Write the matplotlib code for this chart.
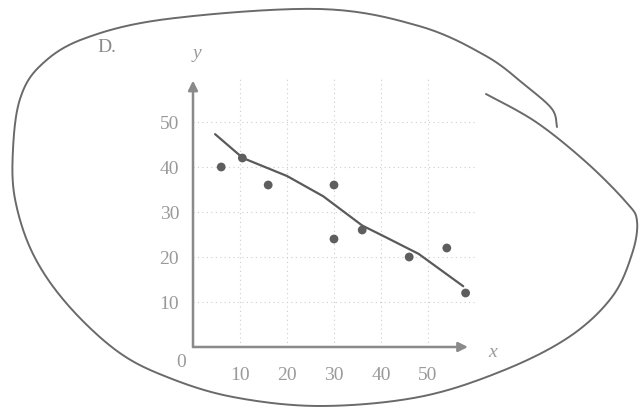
import numpy as np
import matplotlib
matplotlib.use("Agg")
import matplotlib.pyplot as plt

# --- datos ---
x_pts = [6, 10.5, 16, 30, 30, 36, 46, 54, 58]
y_pts = [40, 42, 36, 36, 24, 26, 20, 22, 12]

# curva de tendencia (trazo a mano)
x_curve = [4.7, 10.6, 20, 27.7, 36, 41, 48, 57.5]
y_curve = [47.3, 42, 38, 33.5, 27, 24.4, 20.7, 13.5]

x_ticks = [10, 20, 30, 40, 50]
y_ticks = [10, 20, 30, 40, 50]

# lazo dibujado a mano alrededor de la figura (pixeles de la imagen)
loop_px = [557, 552, 526, 486, 419, 320, 167, 83, 40, 20, 13, 15, 33, 67, 117,
           167, 233, 320, 419, 502, 569, 612, 632, 637, 626, 586, 536, 486]
loop_py = [128, 110, 87, 57, 27, 10, 20, 40, 67, 100, 150, 200, 255, 305, 352,
           378, 398, 407, 398, 372, 338, 298, 255, 222, 203, 163, 123, 95]


def catmull_rom(px, py, n=20):
    """Suaviza una polilinea con un spline Catmull-Rom"""
    p = np.column_stack([px, py]).astype(float)
    p = np.vstack([p[0], p, p[-1]])
    out = []
    for i in range(1, len(p) - 2):
        p0, p1, p2, p3 = p[i - 1], p[i], p[i + 1], p[i + 2]
        for t in np.linspace(0, 1, n, endpoint=False):
            t2, t3 = t * t, t * t * t
            out.append(0.5 * ((2 * p1) + (-p0 + p2) * t +
                              (2 * p0 - 5 * p1 + 4 * p2 - p3) * t2 +
                              (-p0 + 3 * p1 - 3 * p2 + p3) * t3))
    out.append(p[-2])
    out = np.array(out)
    return out[:, 0], out[:, 1]


W, H = 639, 410
fig = plt.figure(figsize=(W / 100, H / 100), dpi=100)
fig.patch.set_facecolor("white")

# capa de fondo en pixeles
bg = fig.add_axes([0, 0, 1, 1])
bg.set_xlim(0, W)
bg.set_ylim(H, 0)
bg.axis("off")
lx, ly = catmull_rom(loop_px, loop_py)
bg.plot(lx, ly, color="#6a6a6a", lw=1.4, solid_capstyle="round")
bg.text(107, 47, "D.", fontsize=14, family="Liberation Serif", color="#8a8a8a",
        ha="center", va="center")

# grafico principal
ax = fig.add_axes([193 / W, 62 / H, 282 / W, 270 / H])
ax.patch.set_alpha(0)
ax.set_xlim(0, 60)
ax.set_ylim(0, 60)
for s in ax.spines.values():
    s.set_visible(False)

ax.set_xticks(x_ticks)
ax.set_yticks(y_ticks)
ax.tick_params(length=0, labelsize=14, labelcolor="#9a9a9a", pad=0)
ax.tick_params(axis="x", pad=14)
ax.tick_params(axis="y", pad=10)
for lab in ax.get_xticklabels() + ax.get_yticklabels():
    lab.set_family("Liberation Serif")
ax.grid(True, linestyle=(0, (1, 3)), color="#cdcdcd", lw=0.8)

# ejes con flechas
ax.annotate("", xy=(58.5, 0), xytext=(0, 0),
            arrowprops=dict(arrowstyle="-|>", color="#8a8a8a", lw=1.8,
                            mutation_scale=14, shrinkA=0, shrinkB=0))
ax.annotate("", xy=(0, 59.2), xytext=(0, 0),
            arrowprops=dict(arrowstyle="-|>", color="#8a8a8a", lw=1.8,
                            mutation_scale=14, shrinkA=0, shrinkB=0))
ax.text(-2.5, -3.3, "0", fontsize=14, family="Liberation Serif", color="#9a9a9a",
        ha="center", va="center")
ax.text(63.7, -1, "x", fontsize=14, family="Liberation Serif", style="italic",
        color="#9a9a9a", ha="center", va="center", clip_on=False)
ax.text(0.8, 65.5, "y", fontsize=14, family="Liberation Serif", style="italic",
        color="#9a9a9a", ha="center", va="center", clip_on=False)

ax.plot(x_curve, y_curve, color="#5a5a5a", lw=1.6, solid_capstyle="round")
ax.scatter(x_pts, y_pts, s=40, color="#5e5e5e", zorder=3, edgecolors="none")

fig.savefig("out.png", dpi=100)
